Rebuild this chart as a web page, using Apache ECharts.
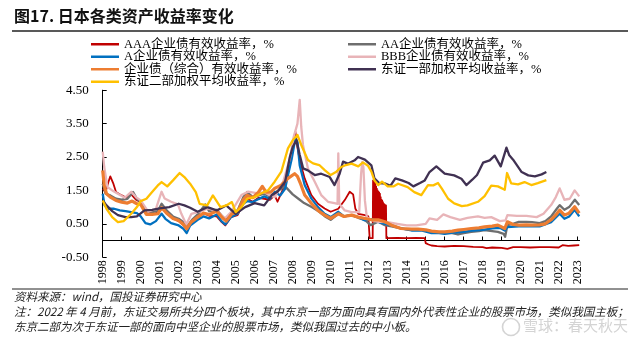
<!DOCTYPE html>
<html>
<head>
<meta charset="utf-8">
<script src="https://cdn.jsdelivr.net/npm/echarts@6/dist/echarts.min.js"></script>
<style>
  html, body { margin: 0; padding: 0; background: #fff; }
  #chart { width: 640px; height: 348px; }
</style>
</head>
<body>
<div id="chart"></div>
<script>
// Japanese asset yields, 1998-2023: [year, yield %]
const aaaYield = [
  [1998.00,1.55],[1998.15,1.45],[1998.30,1.75],[1998.40,1.92],[1998.55,1.72],[1998.70,1.45],[1998.85,1.40],
  [1999.00,1.35],[1999.25,1.28],[1999.50,1.38],[1999.75,1.22],[2000.00,1.15],[2000.25,0.88],[2000.50,0.78],
  [2000.75,0.80],[2001.00,0.88],[2001.15,0.98],[2001.40,0.80],[2001.70,0.66],[2002.00,0.58],[2002.25,0.46],
  [2002.45,0.33],[2002.70,0.55],[2003.00,0.66],[2003.30,0.82],[2003.60,0.74],[2004.00,0.72],[2004.25,0.56],
  [2004.45,0.45],[2004.75,0.70],[2005.10,0.76],[2005.40,1.10],[2005.60,1.26],[2005.90,1.16],[2006.20,1.28],
  [2006.50,1.25],[2006.80,1.22],[2007.05,1.35],[2007.20,1.16],[2007.50,1.55],[2007.75,2.00],[2007.93,2.65],
  [2008.14,3.26],[2008.25,2.78],[2008.37,2.40],[2008.63,1.86],[2008.98,1.36],[2009.33,1.10],[2009.68,0.96],
  [2010.00,0.86],[2010.40,0.95],[2010.74,1.21],[2011.00,1.46],[2011.18,1.38],[2011.30,0.95],[2011.45,0.80],
  [2011.80,0.76],[2011.98,0.72],[2012.03,0.70],[2012.05,0.07],[2012.21,0.07],
  [2012.23,1.80],[2012.25,0.62],[2012.27,1.82],[2012.29,0.60],[2012.31,1.75],[2012.33,0.62],[2012.35,1.70],
  [2012.37,0.60],[2012.39,1.62],[2012.41,0.62],[2012.43,1.55],[2012.45,0.60],[2012.47,1.50],[2012.49,0.62],
  [2012.51,1.46],[2012.53,0.60],[2012.55,1.44],[2012.57,0.62],[2012.59,1.40],[2012.61,0.60],[2012.63,1.30],
  [2012.65,0.62],[2012.67,1.22],[2012.69,0.60],[2012.71,1.20],[2012.73,0.62],[2012.75,1.15],[2012.77,0.60],
  [2012.79,1.10],[2012.81,0.62],[2012.83,1.08],[2012.85,0.60],[2012.87,1.06],[2012.89,0.62],[2012.91,1.05],
  [2012.93,0.07],[2013.50,0.08],[2014.00,0.07],[2014.50,0.08],[2014.95,0.07],[2015.00,-0.08],[2015.15,-0.12],
  [2015.30,-0.15],[2015.60,-0.17],[2016.00,-0.18],[2016.10,-0.22],[2016.50,-0.16],[2017.00,-0.17],[2017.50,-0.19],
  [2018.00,-0.20],[2018.20,-0.23],[2018.50,-0.21],[2019.00,-0.22],[2019.30,-0.25],[2019.60,-0.20],[2020.00,-0.20],
  [2020.50,-0.21],[2021.00,-0.20],[2021.50,-0.20],[2022.00,-0.21],[2022.20,-0.14],[2022.50,-0.16],[2022.80,-0.15],
  [2023.08,-0.14]
];

const aaYield = [
  [1998.00,1.70],[1998.15,1.40],[1998.40,1.35],[1998.70,1.25],[1999.00,1.22],[1999.30,1.25],[1999.60,1.45],
  [1999.80,1.25],[2000.00,1.15],[2000.30,0.85],[2000.60,0.85],[2000.90,0.88],[2001.10,1.10],[2001.40,0.88],
  [2001.70,0.72],[2002.00,0.65],[2002.25,0.55],[2002.45,0.42],[2002.70,0.62],[2003.00,0.78],[2003.40,1.08],
  [2003.60,0.88],[2004.00,0.92],[2004.30,0.72],[2004.50,0.62],[2004.80,0.85],[2005.10,0.90],[2005.40,1.30],
  [2005.60,1.45],[2005.90,1.30],[2006.20,1.35],[2006.50,1.40],[2006.80,1.32],[2007.10,1.45],[2007.40,1.55],
  [2007.60,1.62],[2007.80,1.50],[2008.00,1.38],[2008.30,1.25],[2008.60,1.12],[2009.00,1.00],[2009.30,0.90],
  [2009.70,0.72],[2010.00,0.62],[2010.40,0.80],[2010.70,0.72],[2011.10,0.76],[2011.45,0.68],[2011.80,0.62],
  [2012.10,0.46],[2012.50,0.56],[2012.85,0.46],[2013.20,0.42],[2013.70,0.36],[2014.20,0.32],[2014.60,0.34],
  [2015.00,0.30],[2015.30,0.26],[2015.70,0.24],[2016.00,0.22],[2016.40,0.22],[2016.70,0.18],[2017.00,0.22],
  [2017.40,0.26],[2017.80,0.28],[2018.10,0.31],[2018.50,0.28],[2018.80,0.26],[2019.10,0.20],[2019.18,0.11],
  [2019.30,0.46],[2019.60,0.50],[2019.90,0.56],[2020.30,0.56],[2020.60,0.55],[2021.00,0.52],[2021.30,0.58],
  [2021.60,0.72],[2021.90,0.95],[2022.05,1.06],[2022.30,0.92],[2022.55,1.00],[2022.85,1.22],[2023.08,1.06]
];

const aYield = [
  [1998.00,1.40],[1998.10,1.05],[1998.30,0.95],[1998.60,0.95],[1998.90,0.90],[1999.20,0.88],[1999.50,0.85],
  [1999.80,0.82],[2000.00,0.72],[2000.25,0.52],[2000.50,0.48],[2000.80,0.58],[2001.10,0.80],[2001.30,0.65],
  [2001.60,0.52],[2002.00,0.45],[2002.25,0.35],[2002.42,0.22],[2002.60,0.45],[2003.00,0.62],[2003.30,0.72],
  [2003.60,0.66],[2004.00,0.78],[2004.25,0.58],[2004.45,0.48],[2004.75,0.70],[2005.10,0.80],[2005.40,1.10],
  [2005.60,1.18],[2005.90,1.15],[2006.20,1.24],[2006.50,1.32],[2006.80,1.25],[2007.05,1.45],[2007.35,1.35],
  [2007.60,1.55],[2007.75,1.95],[2007.95,2.45],[2008.14,3.05],[2008.25,2.95],[2008.37,2.25],[2008.63,1.66],
  [2008.98,1.26],[2009.33,1.00],[2009.68,0.80],[2010.00,0.70],[2010.40,0.86],[2010.70,0.72],[2011.10,0.76],
  [2011.45,0.70],[2011.80,0.60],[2012.15,0.64],[2012.50,0.56],[2012.85,0.50],[2013.20,0.46],[2013.70,0.36],
  [2014.25,0.30],[2014.77,0.30],[2015.30,0.22],[2015.70,0.22],[2016.00,0.20],[2016.50,0.24],[2017.00,0.26],
  [2017.50,0.30],[2018.00,0.32],[2018.50,0.36],[2018.90,0.38],[2019.16,0.30],[2019.30,0.40],[2019.90,0.42],
  [2020.50,0.42],[2021.00,0.42],[2021.60,0.55],[2022.05,0.80],[2022.30,0.65],[2022.55,0.72],[2022.84,0.92],
  [2023.08,0.72]
];

const bbbYield = [
  [1998.00,2.66],[1998.08,2.20],[1998.25,1.60],[1998.50,1.50],[1998.80,1.40],[1999.16,1.28],[1999.50,1.46],
  [1999.75,1.30],[2000.00,1.20],[2000.40,0.86],[2000.80,0.95],[2001.10,1.46],[2001.26,1.26],[2001.60,1.16],
  [2001.96,1.08],[2002.14,0.80],[2002.40,0.48],[2002.67,0.80],[2003.00,0.85],[2003.54,0.96],[2004.07,0.86],
  [2004.42,0.66],[2004.77,0.86],[2005.30,1.36],[2005.65,1.46],[2006.17,1.41],[2006.50,1.45],[2006.80,1.35],
  [2007.05,1.30],[2007.50,1.76],[2007.85,2.45],[2008.05,3.10],[2008.25,3.50],[2008.37,4.21],[2008.45,3.40],
  [2008.54,2.86],[2008.80,2.16],[2009.16,1.76],[2009.50,1.36],[2009.86,1.16],[2010.20,1.12],[2010.36,1.10],
  [2010.40,2.61],[2010.45,1.10],[2010.74,0.90],[2011.10,0.85],[2011.50,0.85],[2011.60,2.00],[2011.66,2.35],
  [2011.72,2.20],[2011.80,1.20],[2011.90,0.70],[2012.10,0.62],[2012.50,0.56],[2013.00,0.55],[2013.50,0.50],
  [2014.00,0.45],[2014.50,0.45],[2015.00,0.50],[2015.20,0.66],[2015.60,0.62],[2015.93,0.78],[2016.30,0.70],
  [2016.80,0.62],[2017.20,0.68],[2017.75,0.72],[2018.10,0.68],[2018.45,0.70],[2018.90,0.58],[2019.20,0.60],
  [2019.30,0.76],[2019.80,0.74],[2020.30,0.74],[2020.84,0.70],[2021.20,0.80],[2021.60,1.06],[2021.85,1.30],
  [2022.05,1.56],[2022.30,1.22],[2022.58,1.25],[2022.84,1.50],[2023.08,1.32]
];

const corpYield = [
  [1998.00,2.10],[1998.08,1.65],[1998.20,1.40],[1998.40,1.30],[1998.70,1.20],[1999.00,1.15],[1999.30,1.12],
  [1999.55,1.18],[1999.80,1.10],[2000.00,1.08],[2000.30,0.78],[2000.60,0.78],[2000.90,0.80],[2001.10,0.98],
  [2001.40,0.80],[2001.70,0.66],[2002.00,0.60],[2002.25,0.48],[2002.42,0.35],[2002.65,0.55],[2003.00,0.70],
  [2003.30,0.82],[2003.60,0.78],[2004.00,0.88],[2004.30,0.68],[2004.50,0.58],[2004.80,0.80],[2005.10,0.85],
  [2005.40,1.22],[2005.60,1.35],[2005.90,1.28],[2006.20,1.45],[2006.40,1.62],[2006.60,1.45],[2006.85,1.45],
  [2007.05,1.56],[2007.40,1.66],[2007.75,1.86],[2008.10,2.00],[2008.25,1.92],[2008.40,1.72],[2008.63,1.36],
  [2009.00,1.10],[2009.33,0.90],[2009.68,0.76],[2010.00,0.66],[2010.40,0.80],[2010.70,0.72],[2011.10,0.76],
  [2011.45,0.70],[2011.80,0.66],[2012.15,0.62],[2012.50,0.62],[2012.85,0.56],[2013.20,0.46],[2013.70,0.36],
  [2014.25,0.34],[2014.60,0.34],[2015.00,0.32],[2015.30,0.28],[2015.70,0.26],[2016.00,0.26],[2016.40,0.28],
  [2016.70,0.31],[2017.00,0.33],[2017.40,0.36],[2017.80,0.38],[2018.10,0.41],[2018.50,0.43],[2018.80,0.46],
  [2019.16,0.36],[2019.30,0.56],[2019.60,0.48],[2019.90,0.46],[2020.30,0.47],[2020.60,0.46],[2021.00,0.47],
  [2021.30,0.50],[2021.60,0.62],[2021.90,0.80],[2022.05,0.91],[2022.30,0.76],[2022.55,0.82],[2022.84,1.01],
  [2023.08,0.82]
];

const tse1Yield = [
  [1998.00,1.20],[1998.20,1.05],[1998.50,0.88],[1998.80,0.76],[1999.20,0.70],[1999.50,0.70],[1999.80,0.72],
  [2000.20,0.90],[2000.60,0.92],[2001.00,0.96],[2001.50,1.00],[2002.00,1.10],[2002.30,1.05],[2002.60,0.98],
  [2003.00,0.86],[2003.50,1.00],[2004.00,0.90],[2004.50,1.05],[2005.00,0.80],[2005.50,1.00],[2006.00,1.12],
  [2006.50,1.05],[2006.90,1.36],[2007.20,1.46],[2007.60,1.76],[2007.85,2.50],[2008.00,2.80],[2008.20,3.00],
  [2008.37,2.56],[2008.55,2.16],[2008.80,2.10],[2009.16,1.96],[2009.50,2.00],[2009.95,1.90],[2010.20,1.66],
  [2010.47,2.00],[2010.65,2.36],[2010.90,2.30],[2011.26,2.40],[2011.44,2.50],[2011.80,2.42],[2012.14,2.25],
  [2012.30,1.86],[2012.55,1.72],[2012.90,1.70],[2013.15,1.64],[2013.40,1.86],[2013.75,1.80],[2014.10,1.72],
  [2014.35,1.62],[2014.70,1.72],[2014.95,1.80],[2015.20,2.05],[2015.56,2.22],[2016.00,2.00],[2016.50,1.95],
  [2016.88,1.85],[2017.14,1.66],[2017.45,1.82],[2017.70,1.96],[2018.02,2.33],[2018.37,2.40],[2018.63,2.54],
  [2018.95,2.22],[2019.25,2.78],[2019.40,2.55],[2019.60,2.42],[2020.05,2.05],[2020.40,1.95],[2020.75,1.92],
  [2021.10,1.98],[2021.35,2.05]
];

const tse2Yield = [
  [1998.00,1.20],[1998.20,0.95],[1998.50,0.70],[1998.80,0.55],[1999.10,0.58],[1999.50,0.80],[1999.80,1.00],
  [2000.00,1.18],[2000.30,1.25],[2000.60,1.45],[2000.90,1.65],[2001.10,1.75],[2001.40,1.62],[2001.70,1.80],
  [2002.05,2.02],[2002.30,1.90],[2002.60,1.70],[2002.90,1.45],[2003.10,1.10],[2003.50,1.05],[2003.80,1.35],
  [2004.20,1.00],[2004.50,1.05],[2004.80,1.15],[2005.00,0.85],[2005.30,1.00],[2005.60,1.25],[2006.00,1.30],
  [2006.30,1.40],[2006.70,1.50],[2007.05,1.76],[2007.40,2.06],[2007.75,2.76],[2008.00,3.00],[2008.25,3.16],
  [2008.45,2.86],[2008.80,2.41],[2009.07,2.31],[2009.40,2.26],[2009.70,2.10],[2010.00,1.96],[2010.30,2.06],
  [2010.56,2.20],[2010.80,2.26],[2011.10,2.30],[2011.45,2.22],[2011.70,2.34],[2011.96,2.24],[2012.15,2.05],
  [2012.30,1.80],[2012.50,1.66],[2012.70,1.76],[2013.00,1.62],[2013.30,1.62],[2013.55,1.70],[2014.05,1.60],
  [2014.40,1.45],[2014.77,1.36],[2015.12,1.66],[2015.40,1.65],[2015.65,1.72],[2015.85,1.55],[2016.18,1.25],
  [2016.50,1.11],[2016.90,1.03],[2017.20,1.05],[2017.75,1.16],[2018.10,1.33],[2018.45,1.64],[2018.80,1.62],
  [2019.16,1.52],[2019.28,2.02],[2019.50,1.71],[2019.86,1.68],[2020.20,1.75],[2020.56,1.66],[2020.90,1.72],
  [2021.35,1.81]
];

const seriesNames = [
  'AAA企业债有效收益率，%',
  'AA企业债有效收益率，%',
  'A企业债有效收益率，%',
  'BBB企业债有效收益率，%',
  '企业债（综合）有效收益率，%',
  '东证一部加权平均收益率，%',
  '东证二部加权平均收益率，%'
];
const seriesData = [aaaYield, aaYield, aYield, bbbYield, corpYield, tse1Yield, tse2Yield];
const seriesColors = ['#C00000', '#6E6E6E', '#0070C0', '#E8B4B8', '#ED7D31', '#403152', '#FFC000'];
const seriesWidths = [1.8, 2.3, 2.3, 2.3, 3.2, 2.3, 2.3];

const yTicks = { min: -0.5, max: 4.5, step: 1 };
const xRange = { min: 1998, max: 2023.1, step: 1 };

const serif = '"Liberation Serif", "Noto Sans CJK SC", serif';
const cjk = '"Noto Sans CJK SC", sans-serif';

const chart = echarts.init(document.getElementById('chart'), null, { renderer: 'canvas' });

const legendText = { fontFamily: serif, fontSize: 12.5, color: '#000', lineHeight: 12 };

const option = {
  animation: false,
  backgroundColor: '#fff',
  grid: { left: 102.7, right: 60.4, top: 90.2, bottom: 90.8, containLabel: false },
  legend: [
    {
      data: [seriesNames[0], seriesNames[2], seriesNames[4], seriesNames[6]],
      orient: 'vertical', left: 91, top: 38, padding: 0, itemGap: 0,
      icon: 'rect', itemWidth: 28, itemHeight: 2.5, textStyle: legendText
    },
    {
      data: [seriesNames[1], seriesNames[3], seriesNames[5]],
      orient: 'vertical', left: 348, top: 38, padding: 0, itemGap: 0,
      icon: 'rect', itemWidth: 28, itemHeight: 2.5, textStyle: legendText
    }
  ],
  xAxis: {
    type: 'value', min: xRange.min, max: xRange.max, interval: xRange.step,
    axisLine: { show: true, onZero: true, lineStyle: { color: '#000', width: 1 } },
    axisTick: { show: true, inside: true, length: 4, lineStyle: { color: '#000' } },
    splitLine: { show: false },
    axisLabel: {
      rotate: 90, margin: 3, fontFamily: serif, fontSize: 12, color: '#000',
      showMaxLabel: false,
      formatter: v => (Math.abs(v - Math.round(v)) < 1e-6 ? String(Math.round(v)) : '')
    }
  },
  yAxis: {
    type: 'value', min: yTicks.min, max: yTicks.max, interval: yTicks.step,
    axisLine: { show: true, lineStyle: { color: '#000', width: 1 } },
    axisTick: { show: true, inside: true, length: 4, lineStyle: { color: '#000' } },
    splitLine: { show: false },
    axisLabel: {
      margin: 14, fontFamily: serif, fontSize: 13, color: '#000',
      formatter: v => v.toFixed(2)
    }
  },
  series: seriesNames.map((name, i) => ({
    name, type: 'line', data: seriesData[i],
    showSymbol: false, symbol: 'none', smooth: false, clip: true,
    color: seriesColors[i],
    lineStyle: { color: seriesColors[i], width: seriesWidths[i], join: 'round' },
    z: 2 + i
  })),
  graphic: [
    { type: 'text', left: 14, top: 8, style: { text: '图17. 日本各类资产收益率变化', font: 'bold 16px ' + cjk, fill: '#111' } },
    { type: 'line', shape: { x1: 12, y1: 31, x2: 628, y2: 31 }, style: { stroke: '#595959', lineWidth: 2 } },
    { type: 'line', shape: { x1: 12, y1: 289, x2: 628, y2: 289 }, style: { stroke: '#222', lineWidth: 1 } },
    { type: 'text', left: 14, top: 291, style: { text: '资料来源：wind，国投证券研究中心', font: 'italic 11.5px ' + cjk, fill: '#222' } },
    { type: 'text', left: 14, top: 306, style: { text: '注：2022 年 4 月前，东证交易所共分四个板块，其中东京一部为面向具有国内外代表性企业的股票市场，类似我国主板；', font: 'italic 11.5px ' + cjk, fill: '#222' } },
    { type: 'text', left: 14, top: 321, style: { text: '东京二部为次于东证一部的面向中坚企业的股票市场，类似我国过去的中小板。', font: 'italic 11.5px ' + cjk, fill: '#222' } },
    { type: 'circle', shape: { cx: 511, cy: 327, r: 8.5 }, style: { fill: 'none', stroke: '#d4d4d4', lineWidth: 1.6 } },
    { type: 'text', left: 523, top: 318, style: { text: '雪球：春天秋天', font: '15px ' + cjk, fill: '#d4d4d4' } }
  ]
};

chart.setOption(option);
</script>
</body>
</html>
